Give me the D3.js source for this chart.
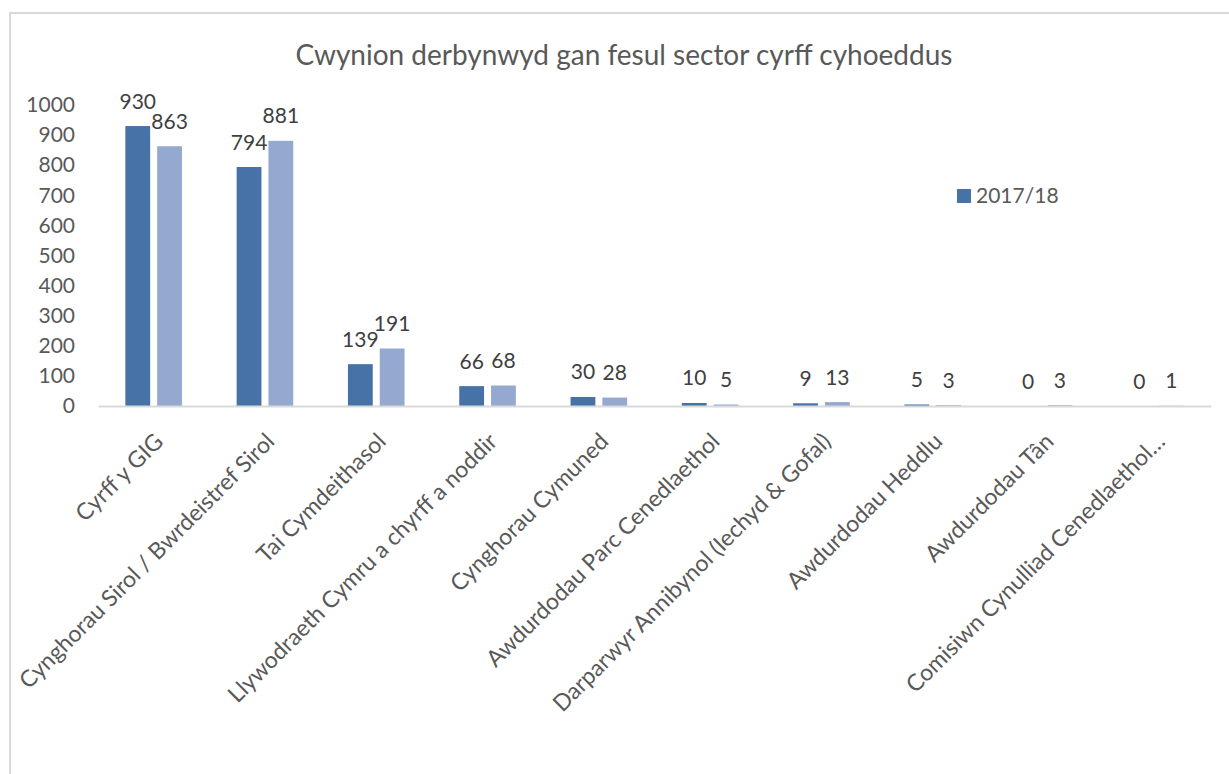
<!DOCTYPE html>
<html>
<head>
<meta charset="utf-8">
<script src="https://cdn.jsdelivr.net/npm/d3@7"></script>
<style>
  html, body { margin: 0; padding: 0; background: #fff; }
  svg { display: block; }
  text { font-family: Lato, "Open Sans", sans-serif; }
</style>
</head>
<body>
<svg id="chart" width="1229" height="774"></svg>
<script>
const categories = [
  "Cyrff y GIG",
  "Cynghorau Sirol / Bwrdeistref Sirol",
  "Tai Cymdeithasol",
  "Llywodraeth Cymru a chyrff a noddir",
  "Cynghorau Cymuned",
  "Awdurdodau Parc Cenedlaethol",
  "Darparwyr Annibynol (Iechyd & Gofal)",
  "Awdurdodau Heddlu",
  "Awdurdodau Tân",
  "Comisiwn Cynulliad Cenedlaethol…"
];
const seriesNames = ["2017/18", "2018/19"];
const values2017 = [930, 794, 139, 66, 30, 10, 9, 5, 0, 0];
const values2018 = [863, 881, 191, 68, 28, 5, 13, 3, 3, 1];
const yTicks = [0, 100, 200, 300, 400, 500, 600, 700, 800, 900, 1000];
const legendNames = ["2017/18"];
const titleText = "Cwynion derbynwyd gan fesul sector cyrff cyhoeddus";

const colors = {"2017/18": "#4672A8", "2018/19": "#95A9D0"};
const seriesValues = {"2017/18": values2017, "2018/19": values2018};

const svg = d3.select("#chart");

// outer chart border (extends past right & bottom edges)
svg.append("rect")
  .attr("x", 10).attr("y", 13)
  .attr("width", 1240).attr("height", 800)
  .attr("fill", "none").attr("stroke", "#D9D9D9").attr("stroke-width", 2);

const x0 = d3.scaleBand().domain(categories).range([98, 1211]).paddingInner(0).paddingOuter(0);
const bw = x0.bandwidth();
const x1 = d3.scaleBand().domain(seriesNames).range([bw * 0.2457, bw * 0.7543]).paddingInner(0.22).paddingOuter(0);
const y = d3.scaleLinear().domain([0, 1000]).range([406, 105]);

// title
svg.append("text")
  .attr("x", 624).attr("y", 65)
  .attr("text-anchor", "middle")
  .attr("fill", "#595959")
  .style("font-size", "28px")
  .style("font-weight", 400)
  .text(titleText);

// y axis (labels only)
const yAxis = d3.axisLeft(y).tickValues(yTicks).tickSize(0).tickPadding(0).tickFormat(d3.format("d"));
const yg = svg.append("g").attr("transform", "translate(75,0)").call(yAxis);
yg.select(".domain").remove();
yg.selectAll("text")
  .attr("fill", "#595959")
  .style("font-size", "21px")
  .style("font-family", "Lato, 'Open Sans', sans-serif");

// bars
const groups = svg.append("g").selectAll("g")
  .data(categories)
  .join("g")
  .attr("transform", d => `translate(${x0(d)},0)`);

groups.selectAll("rect")
  .data((d, i) => seriesNames.map(s => ({s, v: seriesValues[s][i]})))
  .join("rect")
  .attr("x", d => x1(d.s))
  .attr("width", x1.bandwidth())
  .attr("y", d => y(d.v))
  .attr("height", d => y(0) - y(d.v))
  .attr("fill", d => colors[d.s]);

groups.selectAll("text.val")
  .data((d, i) => seriesNames.map(s => ({s, v: seriesValues[s][i]})))
  .join("text")
  .attr("class", "val")
  .attr("x", d => x1(d.s) + x1.bandwidth() / 2)
  .attr("y", d => y(d.v) - 17.5)
  .attr("text-anchor", "middle")
  .attr("fill", "#404040")
  .style("font-size", "21px")
  .text(d => d.v);

// x axis baseline
const xAxis = d3.axisBottom(x0).tickSize(0).tickPadding(0);
const xg = svg.append("g").attr("transform", `translate(0,${y(0)})`).call(xAxis);
xg.select(".domain").attr("stroke", "#D9D9D9").attr("stroke-width", 2);
xg.selectAll("text")
  .attr("fill", "#595959")
  .style("font-size", "23px")
  .style("font-family", "Lato, 'Open Sans', sans-serif")
  .attr("text-anchor", "end")
  .attr("dy", null)
  .attr("y", 0)
  .attr("transform", "translate(11,37) rotate(-45)");

// legend
const lg = svg.append("g").attr("transform", "translate(957,189)");
legendNames.forEach((n, i) => {
  lg.append("rect").attr("x", 0).attr("y", 0).attr("width", 14).attr("height", 14).attr("fill", colors[n]);
  lg.append("text").attr("x", 19).attr("y", 13.5).attr("fill", "#595959").style("font-size", "21px").text(n);
});
</script>
</body>
</html>
